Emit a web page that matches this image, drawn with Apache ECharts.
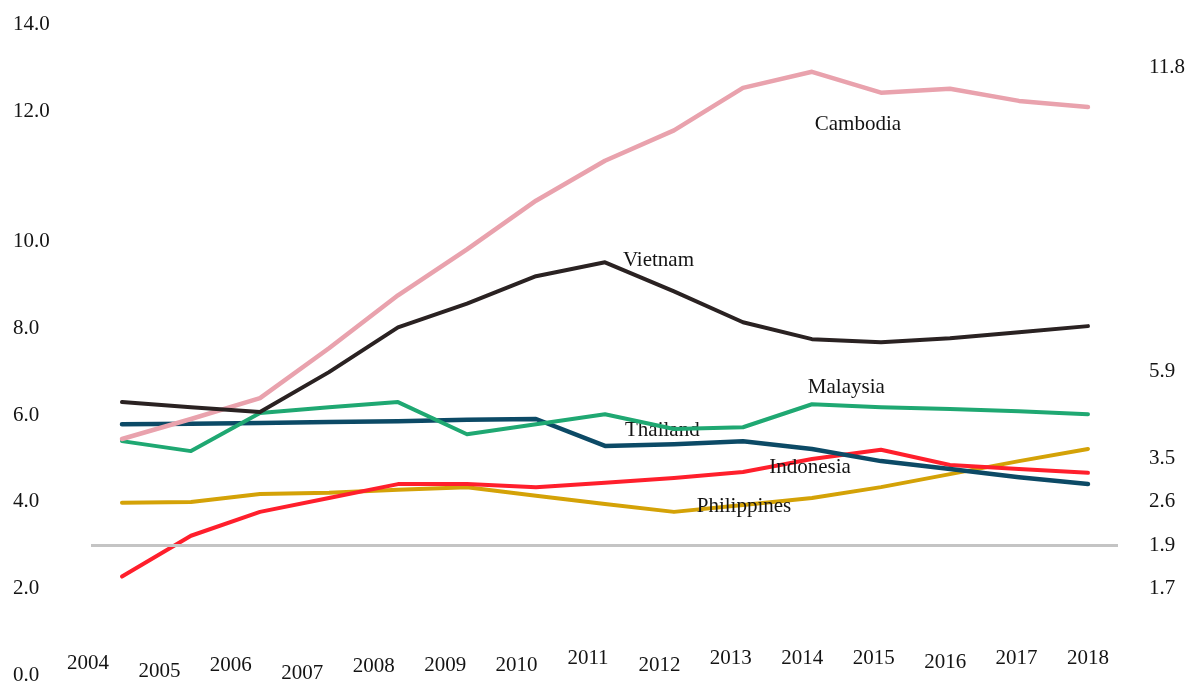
<!DOCTYPE html>
<html>
<head>
<meta charset="utf-8">
<title>ASEAN series 2004–2018</title>
<script src="https://cdn.jsdelivr.net/npm/echarts@6/dist/echarts.min.js"></script>
<style>
  html, body { margin: 0; padding: 0; background: #ffffff; }
  #chart { width: 1194px; height: 686px; }
</style>
</head>
<body>
<div id="chart"></div>
<script>
// ---- data ----
const years = ['2004', '2005', '2006', '2007', '2008', '2009', '2010', '2011',
               '2012', '2013', '2014', '2015', '2016', '2017', '2018'];

const cambodia    = [5.45, 5.91, 6.39, 7.54, 8.76, 9.82, 10.94, 11.86, 12.56, 13.54, 13.91, 13.43, 13.52, 13.24, 13.10];
const vietnam     = [6.30, 6.18, 6.07, 6.99, 8.02, 8.57, 9.20, 9.52, 8.85, 8.14, 7.75, 7.68, 7.77, 7.91, 8.05];
const malaysia    = [5.40, 5.17, 6.05, 6.18, 6.30, 5.56, 5.79, 6.02, 5.68, 5.72, 6.25, 6.18, 6.14, 6.09, 6.02];
const thailand    = [5.79, 5.80, 5.82, 5.84, 5.86, 5.89, 5.91, 5.29, 5.33, 5.40, 5.22, 4.94, 4.76, 4.57, 4.41];
const indonesia   = [2.28, 3.22, 3.77, 4.09, 4.41, 4.41, 4.34, 4.44, 4.55, 4.69, 4.99, 5.20, 4.85, 4.76, 4.67];
const philippines = [3.98, 4.00, 4.18, 4.21, 4.28, 4.34, 4.14, 3.95, 3.77, 3.93, 4.09, 4.34, 4.64, 4.94, 5.22];

// horizontal reference level
const referenceLevel = 3.0;

// left scale tick texts and the axis values they sit on
const leftTickLabels = ['0.0', '2.0', '4.0', '6.0', '8.0', '10.0', '12.0', '14.0'];
const leftTickAt     = [0, 2, 4, 6, 8, 10, 13, 15];

// right-hand tick texts and the axis values they sit on
const rightTickLabels = ['1.7', '1.9', '2.6', '3.5', '5.9', '11.8'];
const rightTickAt     = [2, 3, 4, 5, 7, 14];

// ---- presentation ----
const FONT = '"Liberation Serif", "Times New Roman", serif';
const TEXT = '#141414';

// where each country's name is written (year, value)
const nameTagAt = {
  Cambodia:    [2014.04, 12.70],
  Vietnam:     [2011.26, 9.57],
  Malaysia:    [2013.94, 6.63],
  Thailand:    [2011.29, 5.64],
  Indonesia:   [2013.38, 4.79],
  Philippines: [2012.33, 3.89]
};

// small vertical drop of each year label
const yearLabelDrop = [5, 13, 7, 15, 8, 7, 7, 0, 7, 0, 0, 0, 4, 0, 0];

const seriesDefs = [
  { name: 'Philippines', values: philippines, color: '#d4a207', width: 4 },
  { name: 'Indonesia',   values: indonesia,   color: '#ff1f2c', width: 4 },
  { name: 'Thailand',    values: thailand,    color: '#0c4a66', width: 4.5 },
  { name: 'Malaysia',    values: malaysia,    color: '#1fa872', width: 4 },
  { name: 'Cambodia',    values: cambodia,    color: '#e9a2ad', width: 4.5 },
  { name: 'Vietnam',     values: vietnam,     color: '#2a2222', width: 4 }
];

const yearRich = {};
yearLabelDrop.forEach((d, i) => {
  yearRich['y' + i] = {
    fontFamily: FONT, fontSize: 21, color: TEXT,
    padding: [d, 0, 0, 0]
  };
});

const series = seriesDefs.map((s, idx) => {
  const out = {
    name: s.name,
    type: 'line',
    xAxisIndex: 0,
    yAxisIndex: 0,
    data: s.values.map((v, i) => [Number(years[i]), v]),
    showSymbol: false,
    symbol: 'none',
    smooth: false,
    lineStyle: { color: s.color, width: s.width, cap: 'round', join: 'round' },
    itemStyle: { color: s.color },
    z: 3 + idx,
    markPoint: {
      silent: true,
      symbol: 'circle',
      symbolSize: 0,
      data: [{ coord: nameTagAt[s.name] }],
      label: {
        show: true,
        position: 'right',
        distance: 0,
        formatter: s.name,
        fontFamily: FONT,
        fontSize: 21,
        color: TEXT
      }
    }
  };
  if (idx === 0) {
    out.markLine = {
      silent: true,
      symbol: 'none',
      label: { show: false },
      lineStyle: { color: '#c4c4c4', width: 3, type: 'solid' },
      data: [{ yAxis: referenceLevel }]
    };
  }
  return out;
});

const chart = echarts.init(document.getElementById('chart'), null, { renderer: 'canvas' });

chart.setOption({
  animation: false,
  backgroundColor: '#ffffff',
  grid: [
    // plotting area (spans the full width of the reference rule)
    { left: 91, right: 76, top: 24.5, bottom: 9 },
    // year label row
    { left: 88, right: 106, top: 24.5, bottom: 46 }
  ],
  xAxis: [
    {
      type: 'value',
      gridIndex: 0,
      min: 2003.551,
      max: 2018.435,
      show: false
    },
    {
      type: 'category',
      gridIndex: 1,
      data: years,
      boundaryGap: false,
      axisLine: { show: false },
      axisTick: { show: false },
      splitLine: { show: false },
      axisLabel: {
        interval: 0,
        margin: 8,
        formatter: (val, i) => '{y' + i + '|' + val + '}',
        rich: yearRich
      }
    }
  ],
  yAxis: [
    {
      type: 'value',
      gridIndex: 0,
      min: 0,
      max: 15,
      interval: 1,
      position: 'left',
      axisLine: { show: false },
      axisTick: { show: false },
      splitLine: { show: false },
      axisLabel: {
        margin: 78,
        align: 'left',
        padding: [5, 0, 0, 0],
        fontFamily: FONT,
        fontSize: 21,
        color: TEXT,
        showMinLabel: true,
        showMaxLabel: true,
        formatter: (v) => {
          const k = leftTickAt.indexOf(Math.round(v));
          return k >= 0 ? leftTickLabels[k] : '';
        }
      }
    },
    {
      type: 'value',
      gridIndex: 0,
      min: 0,
      max: 15,
      interval: 1,
      position: 'right',
      axisLine: { show: false },
      axisTick: { show: false },
      splitLine: { show: false },
      axisLabel: {
        margin: 31,
        align: 'left',
        padding: [4, 0, 0, 0],
        fontFamily: FONT,
        fontSize: 21,
        color: TEXT,
        formatter: (v) => {
          const k = rightTickAt.indexOf(Math.round(v));
          return k >= 0 ? rightTickLabels[k] : '';
        }
      }
    },
    {
      type: 'value',
      gridIndex: 1,
      min: 0,
      max: 1,
      show: false
    }
  ],
  series: series
});
</script>
</body>
</html>
